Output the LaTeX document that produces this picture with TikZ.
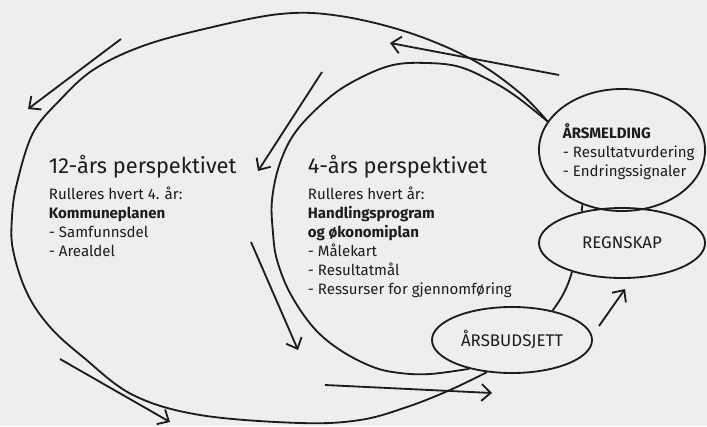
\documentclass[tikz,border=0pt]{standalone}
\usepackage{fontspec}
\setmainfont{Fira Sans}
\usetikzlibrary{shapes,arrows.meta,calc}

\definecolor{bg}{RGB}{238,238,238}
\definecolor{ink}{RGB}{28,28,28}

\begin{document}
\begin{tikzpicture}[x=0.025cm, y=-0.025cm, line width=1.3pt, color=ink,
  bubble/.style={ellipse, draw, inner sep=0pt},
  flow/.style={-{Straight Barb[length=6.5pt,width=12pt]}},
  head/.style={anchor=base west, inner sep=0pt, font=\fontsize{15.5}{18}\selectfont},
  body/.style={anchor=north west, inner sep=0pt, align=left, font=\fontsize{10.7}{13.5}\selectfont}]

\fill[bg] (0,0) rectangle (707,426);
\useasboundingbox (0,0) rectangle (707,426);

\node[bubble, minimum width=4.15cm, minimum height=3.05cm] (melding) at (622,150) {};
\node[body] (meldingtxt) at (562,122.5) {\strut\textbf{ÅRSMELDING}\\- Resultatvurdering\\- Endringssignaler};
\node[bubble, minimum width=4.15cm, minimum height=1.75cm, font=\fontsize{12}{14}\selectfont] (regnskap) at (622,243) {REGNSKAP};
\node[bubble, minimum width=4cm, minimum height=1.65cm, font=\fontsize{12}{14}\selectfont] (budsjett) at (512,340) {ÅRSBUDSJETT};

\node[head] (title12) at (48,173) {12-års perspektivet};
\node[body] (text12) at (48,185.5) {\strut Rulleres hvert 4. år:\\\textbf{Kommuneplanen}\\- Samfunnsdel\\- Arealdel};
\node[head] (title4) at (307,173) {4-års perspektivet};
\node[body] (text4) at (307,185.5) {\strut Rulleres hvert år:\\\textbf{Handlingsprogram}\\\textbf{og økonomiplan}\\- Målekart\\- Resultatmål\\- Ressurser for gjennomføring};

\draw plot[smooth, tension=0.6] coordinates {(melding.159) (520,93) (473,60) (410,33) (340,16) (280,14) (200,30) (140,47) (93,70) (60,100) (33,133) (17,183) (12,217) (13,250) (27,293) (50,327) (83,357) (133,395) (200,415) (300,423) (360,420) (407,407) (450,390) (budsjett.232)};
\draw plot[smooth, tension=0.6] coordinates {(melding.159) (517,97) (493,82) (460,67) (427,63) (393,65) (360,78) (330,97) (297,130) (280,163) (272,200) (273,233) (277,260) (290,293) (313,327) (340,350) (373,367) (400,373) (430,374) (budsjett.214)};

\draw (melding.234) -- (regnskap.142);
\draw (regnskap.210) to[bend left=10] (budsjett.36);

\coordinate (a1s) at (121,39);  \coordinate (a1e) at (28,109);
\coordinate (a2s) at (322,72);  \coordinate (a2e) at (258,171);
\coordinate (a3s) at (559,75);  \coordinate (a3e) at (390,43);
\coordinate (a4s) at (251,242); \coordinate (a4e) at (298,350);
\coordinate (a5s) at (60,359);  \coordinate (a5e) at (170,422);
\coordinate (a6s) at (325,385); \coordinate (a6e) at (492,393);
\coordinate (a7s) at (599,326); \coordinate (a7e) at (625,289);
\draw[flow] (a1s) -- (a1e);
\draw[flow] (a2s) -- (a2e);
\draw[flow] (a3s) -- (a3e);
\draw[flow] (a4s) -- (a4e);
\draw[flow] (a5s) -- (a5e);
\draw[flow] (a6s) -- (a6e);
\draw[flow] (a7s) -- (a7e);
\end{tikzpicture}
\end{document}
